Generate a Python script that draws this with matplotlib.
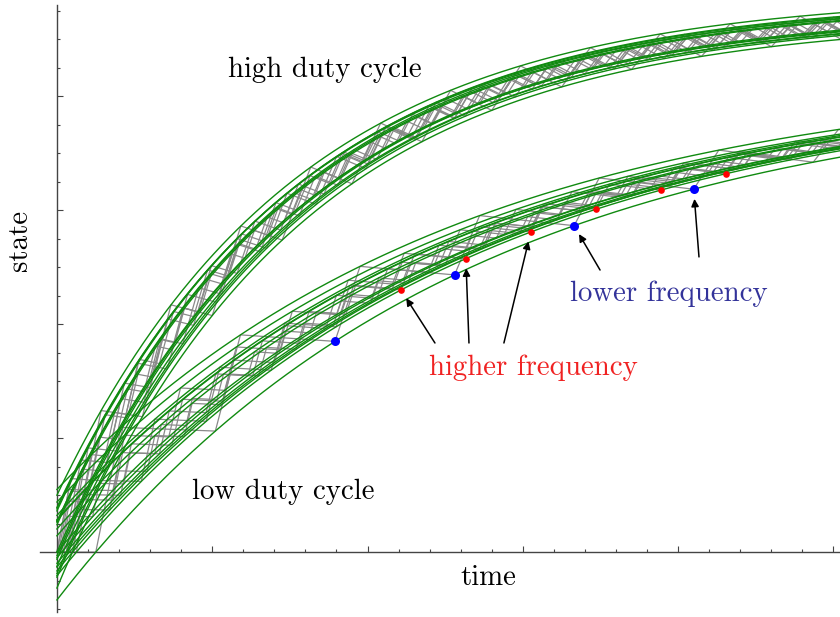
import numpy as np
import matplotlib.pyplot as plt

# high duty cycle band: drive level, duty, on/off time constants,
# PWM periods and start phases of the runs
high_drive = 1.13
high_duty = 0.41
high_tau_on, high_tau_off = 0.743, 6.0
high_periods = [0.45, 0.32, 0.22, 0.28, 0.18, 0.25, 0.15]
high_phases = [0.10, 0.07, 0.00, 0.04, 0.02, 0.06, 0.01]

# low duty cycle band
low_drive = 0.927
low_duty = 0.21
low_tau_on, low_tau_off = 0.6, 20.0
low_periods = [0.77, 0.418, 0.36, 0.30, 0.24, 0.20, 0.33]
low_phases = [0.25, 0.125, 0.00, 0.06, 0.10, 0.03, 0.08]

# which low-band runs get their switching points marked, and which steps
blue_run, blue_steps = 0, [2, 3, 4, 5]
red_run, red_steps = 1, [5, 6, 7, 8, 9, 10]

t_end = 5.05


def pwm_run(drive, duty, tau_on, tau_off, period, phase):
    """Switching points of a PWM run: charge while on, leak while off."""
    ts, ys = [0.0], [0.0]
    starts, ends = [], []
    t, y = phase, 0.0
    if phase > 0:
        ts.append(t)
        ys.append(y)
    while t < t_end:
        starts.append((t, y))
        y = drive - (drive - y) * np.exp(-duty * period / tau_on)
        ts.append(t + duty * period)
        ys.append(y)
        ends.append((t + duty * period, y))
        y *= np.exp(-(1 - duty) * period / tau_off)
        t += period
        ts.append(t)
        ys.append(y)
    return np.array(ts), np.array(ys), starts, ends


def envelopes(drive, duty, tau_on, tau_off, period, starts, ends, t):
    """Exponentials through the switch-on and switch-off points."""
    rho = duty / tau_on + (1 - duty) / tau_off
    a = np.exp(-rho * period)
    b = drive * (1 - np.exp(-duty * period / tau_on)) * np.exp(-(1 - duty) * period / tau_off)
    lo_lim = b / (1 - a)
    hi_lim = drive - (drive - lo_lim) * np.exp(-duty * period / tau_on)
    t0, y0 = starts[0]
    t1, y1 = ends[0]
    lower = lo_lim + (y0 - lo_lim) * np.exp(-rho * (t - t0))
    upper = hi_lim + (y1 - hi_lim) * np.exp(-rho * (t - t1))
    return lower, upper


fig = plt.figure(figsize=(8.4, 6.17), dpi=100)
ax = fig.add_axes([40 / 840, 5 / 617, 800 / 840, 607 / 617])

tt = np.linspace(0, t_end, 400)
runs = {}
for name, drive, duty, tau_on, tau_off, periods, phases in [
        ("high", high_drive, high_duty, high_tau_on, high_tau_off, high_periods, high_phases),
        ("low", low_drive, low_duty, low_tau_on, low_tau_off, low_periods, low_phases)]:
    runs[name] = []
    for T, ph in zip(periods, phases):
        ts, ys, starts, ends = pwm_run(drive, duty, tau_on, tau_off, T, ph)
        runs[name].append(starts)
        ax.plot(ts, ys, color="#8a8a8a", lw=0.9, zorder=2)
        lo, up = envelopes(drive, duty, tau_on, tau_off, T, starts, ends, tt)
        ax.plot(tt, lo, color="#108a10", lw=1.0, zorder=3)
        ax.plot(tt, up, color="#108a10", lw=1.0, zorder=3)

blue_pts = [runs["low"][blue_run][k] for k in blue_steps]
red_pts = [runs["low"][red_run][k] for k in red_steps]
ax.plot([p[0] for p in blue_pts], [p[1] for p in blue_pts], "o",
        color="#0000ff", ms=6.5, mec="none", zorder=5)
ax.plot([p[0] for p in red_pts], [p[1] for p in red_pts], "o",
        color="#ff0000", ms=4.8, mec="none", zorder=5)

font = dict(family="cmr10", size=20.8)
arrow = dict(arrowstyle="-|>", color="black", lw=1.1, mutation_scale=11,
             shrinkA=0, shrinkB=7)

# labels with their arrows
ax.text(1.726, 0.846, "high duty cycle", ha="center", va="center", **font)
ax.text(1.455, 0.105, "low duty cycle", ha="center", va="center", **font)
ax.text(3.065, 0.323, "higher frequency", ha="center", va="center",
        color="#f02222", **font)
ax.text(3.94, 0.453, "lower frequency", ha="center", va="center",
        color="#33339a", **font)

red_tails = [(2.434, 0.367), (2.653, 0.367), (2.878, 0.367)]
for p, tail in zip(red_pts[:3], red_tails):
    ax.annotate("", xy=p, xytext=tail, arrowprops=arrow, zorder=6)
blue_tails = [(3.497, 0.495), (4.134, 0.518)]
for p, tail in zip(blue_pts[2:4], blue_tails):
    ax.annotate("", xy=p, xytext=tail, arrowprops=arrow, zorder=6)

ax.set_xlim(-0.109, 5.042)
ax.set_ylim(-0.105, 0.96)
for side in ["top", "right"]:
    ax.spines[side].set_visible(False)
for side in ["left", "bottom"]:
    ax.spines[side].set_position(("data", 0))
    ax.spines[side].set_color("#444444")
    ax.spines[side].set_linewidth(1.0)

ax.set_xticks([1, 2, 3, 4, 5])
ax.set_xticks([x / 5 for x in range(1, 26) if x % 5], minor=True)
ax.set_yticks([0.2, 0.4, 0.6, 0.8])
ax.set_yticks([y / 20 for y in range(-2, 20) if y % 4 and y != 0], minor=True)
ax.tick_params(which="both", direction="in", labelbottom=False, labelleft=False,
               color="#444444", width=0.8)
ax.tick_params(which="major", length=4.5)
ax.tick_params(which="minor", length=2.5)

fig.text(488 / 840, 1 - 578 / 617, "time", ha="center", va="center", **font)
fig.text(20 / 840, 1 - 240 / 617, "state", ha="center", va="center",
         rotation=90, **font)

fig.savefig("out.png", dpi=100)
